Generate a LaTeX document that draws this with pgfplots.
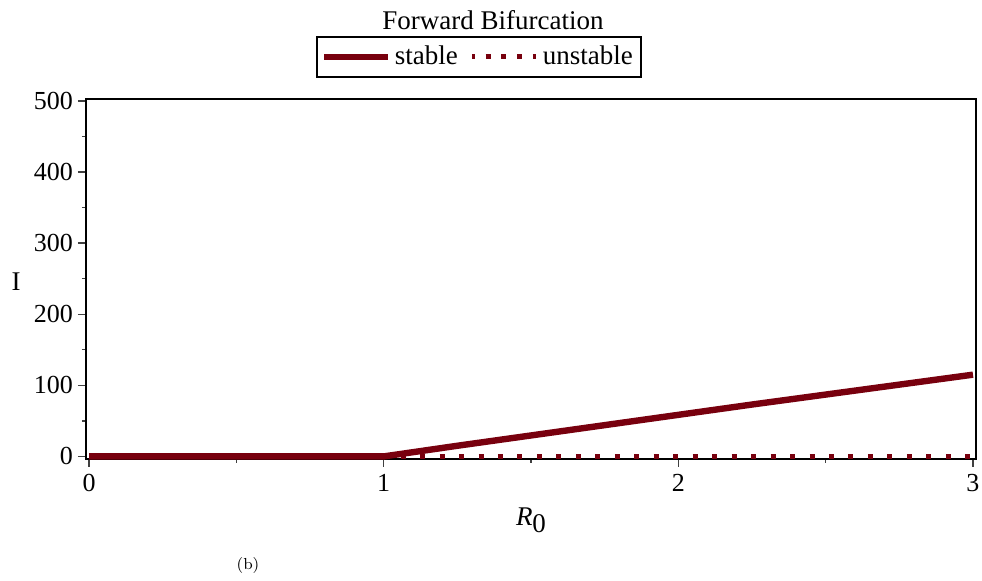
\documentclass[border=0pt]{standalone}
\usepackage{fontspec}
\setmainfont{Liberation Serif}
\usepackage{pgfplots}
\pgfplotsset{compat=1.18}
\definecolor{mred}{HTML}{78000E}
\begin{document}
\begin{tikzpicture}
\useasboundingbox (-43pt,-61pt) rectangle (448pt,229.5pt);
\begin{axis}[
  at={(0,0)}, anchor=south west,
  scale only axis, width=445pt, height=180pt,
  xmin=-0.0102, xmax=3.0102, ymin=-3.6, ymax=502.8,
  xtick={0,1,2,3}, ytick={0,100,200,300,400,500},
  minor x tick num=1, minor y tick num=1,
  xtick pos=left, ytick pos=left,
  tick align=outside,
  major tick length=4pt, minor tick length=2pt,
  axis line style={line width=0.9pt, black},
  tick style={line width=0.7pt, black!75},
  tick label style={font=\fontsize{13}{15}\selectfont},
  yticklabel style={xshift=1pt},
  /pgf/number format/assume math mode=true,
  clip=false,
  xlabel={\textit{R}\raisebox{-0.55ex}{0}},
  xlabel style={at={(rel axis cs:0.5,0)}, anchor=base, yshift=-33.5pt, font=\fontsize{13.5}{15}\selectfont},
  ylabel={I},
  ylabel style={rotate=-90, at={(rel axis cs:0,0.5)}, anchor=center, xshift=-35pt, yshift=-1.5pt, font=\fontsize{13.5}{15}\selectfont},
  title={Forward Bifurcation},
  title style={at={(rel axis cs:0,1)}, anchor=base, xshift=203.5pt, yshift=28.5pt, font=\fontsize{13.5}{15}\selectfont},
  legend columns=2,
  reverse legend,
  legend style={at={(rel axis cs:0,1)}, anchor=center, xshift=196.5pt, yshift=21pt,
    draw=black, line width=0.8pt, inner xsep=2pt, inner ysep=2.5pt,
    font=\fontsize{13.5}{15}\selectfont,
    /tikz/every even column/.append style={column sep=4pt}},
  legend cell align=left,
]
\addplot[mred, line width=2.5pt, dash pattern=on 2.5pt off 7.235pt, dash phase=1.25pt,
  legend image code/.code={\draw[mred, line width=2.5pt, dash pattern=on 2.5pt off 5.4pt] (0pt,0pt) -- (32pt,0pt);}]
  coordinates {(1,0) (3,0)};
\addlegendentry{unstable}
\addplot[mred, line width=3.2pt, line join=round,
  legend image code/.code={\draw[mred, line width=2.8pt] (0pt,0pt) -- (32pt,0pt);}]
  coordinates {(0,0) (1,0) (1.25,15) (1.5,29.5) (1.75,44) (2,58.5) (2.25,73) (2.5,87) (2.75,101) (3,115)};
\addlegendentry{stable}
\end{axis}
\node[font=\fontsize{8}{9}\selectfont\rmfamily, inner sep=0pt] at (81pt,-53.5pt) {\fontspec{Latin Modern Roman}(b)};
\end{tikzpicture}
\end{document}
